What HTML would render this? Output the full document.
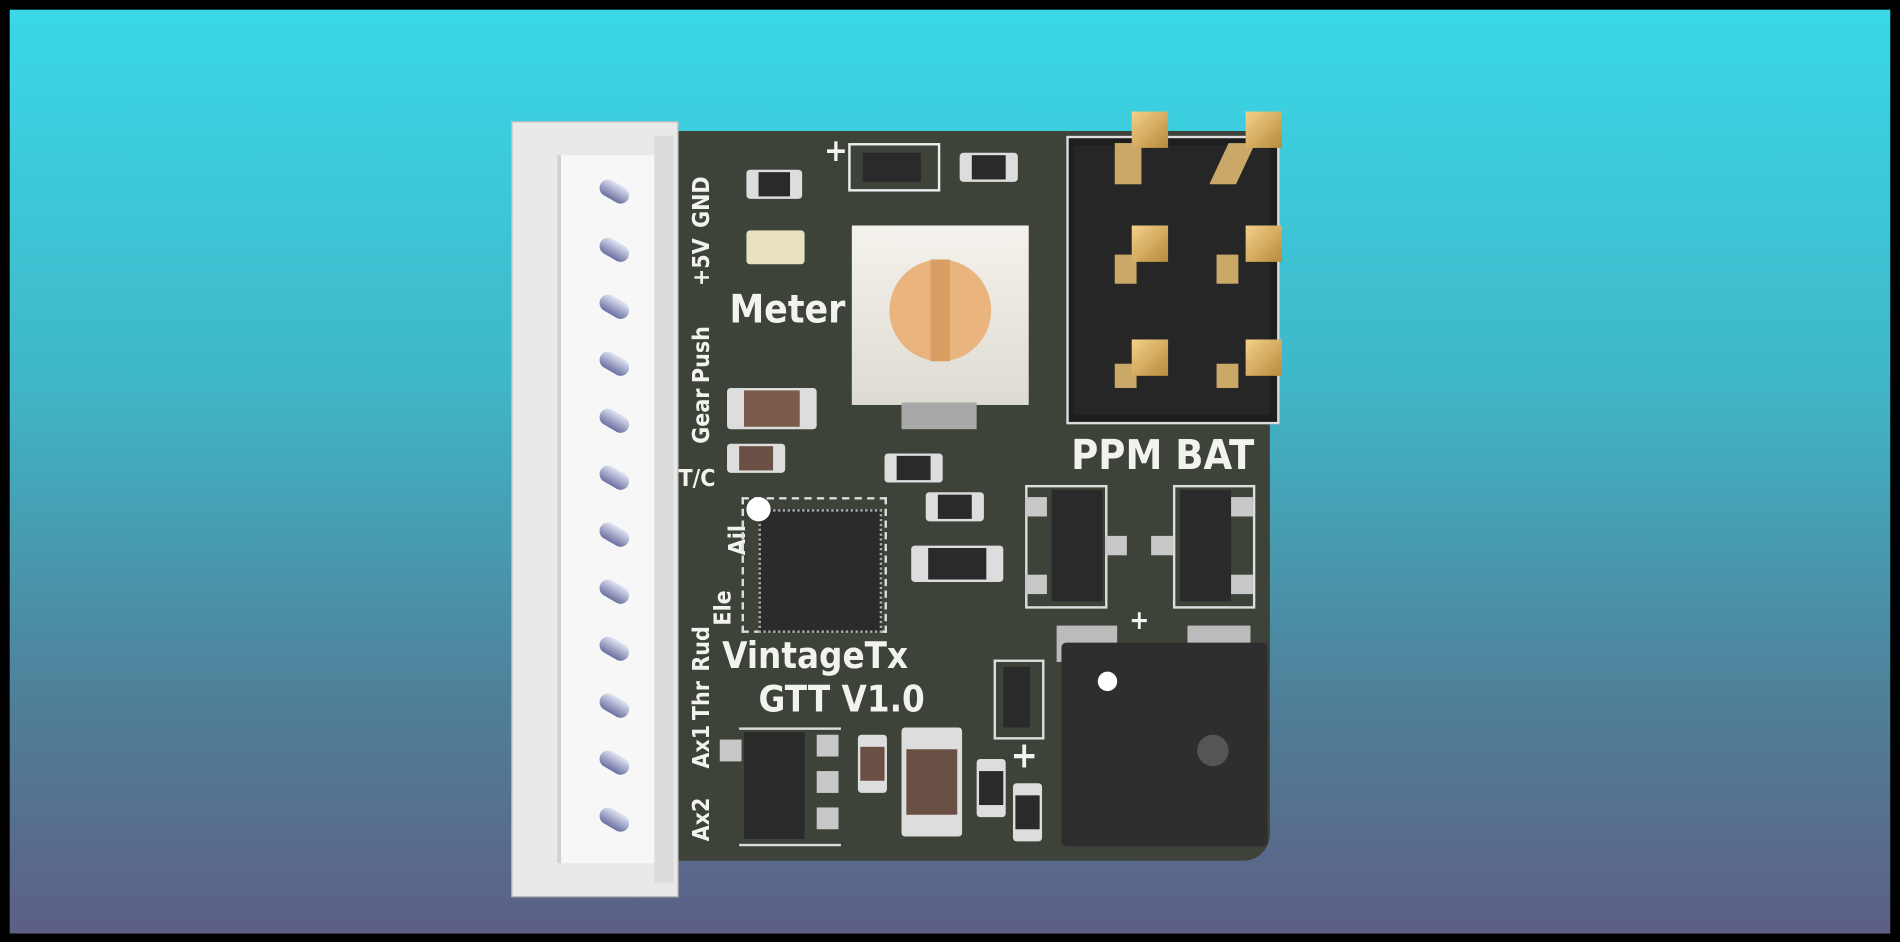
<!DOCTYPE html>
<html><head><meta charset="utf-8"><style>
html,body{margin:0;padding:0;width:1900px;height:942px;overflow:hidden;background:#000}
#s{position:absolute;left:0;top:0;width:1568px;height:777px;transform:scale(1.2117,1.2124);transform-origin:0 0}
.a{position:absolute}
.bg{left:8px;top:8px;width:1552px;height:762px;background:linear-gradient(#3ad8e8 0%,#3fb7c8 40%,#4f7f98 75%,#5d5f86 100%)}
.pcb{left:540px;top:108px;width:508px;height:602px;background:#3d4338;border-radius:4px 4px 22px 4px}
.t{color:#f2f2ee;font-family:"DejaVu Sans Condensed","DejaVu Sans","Liberation Sans",sans-serif;font-weight:bold;white-space:nowrap}
.pin{width:26px;height:14px;border-radius:7px;background:linear-gradient(#e0e4f4,#6a70a0);transform:rotate(30deg)}
.gold{width:30px;height:30px;background:linear-gradient(135deg,#f3d08a,#b88a3c);}
.gp{background:#caa868}
.res{background:#ddd;border-radius:3px}
.blk{background:#2a2a2a}
.pad{background:#c8c8c8}
</style></head><body><div id="s">
<div class="a bg"></div>
<div class="a pcb"></div>
<div class="a" style="left:422px;top:100px;width:136px;height:638px;background:#e9e9e9;border:1px solid #bbb"></div>
<div class="a" style="left:460px;top:128px;width:80px;height:584px;background:#f7f7f7;border-left:3px solid #d0d0d0"></div>
<div class="a" style="left:540px;top:112px;width:16px;height:616px;background:#dcdcdc"></div>
<div class="a pin" style="left:494px;top:151px"></div>
<div class="a pin" style="left:494px;top:199px"></div>
<div class="a pin" style="left:494px;top:246px"></div>
<div class="a pin" style="left:494px;top:293px"></div>
<div class="a pin" style="left:494px;top:340px"></div>
<div class="a pin" style="left:494px;top:387px"></div>
<div class="a pin" style="left:494px;top:434px"></div>
<div class="a pin" style="left:494px;top:481px"></div>
<div class="a pin" style="left:494px;top:528px"></div>
<div class="a pin" style="left:494px;top:575px"></div>
<div class="a pin" style="left:494px;top:622px"></div>
<div class="a pin" style="left:494px;top:669px"></div>
<div class="a t" style="font-size:19px;transform:rotate(-90deg);transform-origin:0 0;top:188px;left:568px">GND</div>
<div class="a t" style="font-size:19px;transform:rotate(-90deg);transform-origin:0 0;top:236px;left:568px">+5V</div>
<div class="a t" style="font-size:19px;transform:rotate(-90deg);transform-origin:0 0;top:316px;left:568px">Push</div>
<div class="a t" style="font-size:19px;transform:rotate(-90deg);transform-origin:0 0;top:366px;left:568px">Gear</div>
<div class="a t" style="font-size:19px;top:384px;left:560px">T/C</div>
<div class="a t" style="font-size:19px;transform:rotate(-90deg);transform-origin:0 0;top:458px;left:598px">Ail</div>
<div class="a t" style="font-size:19px;transform:rotate(-90deg);transform-origin:0 0;top:516px;left:586px">Ele</div>
<div class="a t" style="font-size:19px;transform:rotate(-90deg);transform-origin:0 0;top:554px;left:568px">Rud</div>
<div class="a t" style="font-size:19px;transform:rotate(-90deg);transform-origin:0 0;top:594px;left:568px">Thr</div>
<div class="a t" style="font-size:19px;transform:rotate(-90deg);transform-origin:0 0;top:634px;left:568px">Ax1</div>
<div class="a t" style="font-size:19px;transform:rotate(-90deg);transform-origin:0 0;top:694px;left:568px">Ax2</div>
<div class="a" style="left:703px;top:186px;width:146px;height:148px;background:linear-gradient(#f4f2ec,#dedbd2)"></div>
<div class="a" style="left:744px;top:332px;width:62px;height:22px;background:#a8a8a8"></div>
<div class="a" style="left:734px;top:214px;width:84px;height:84px;border-radius:50%;background:#e9b47e"></div>
<div class="a" style="left:768px;top:214px;width:16px;height:84px;background:#d99e62"></div>
<div class="a t" style="left:602px;top:236px;font-size:32px">Meter</div>
<div class="a" style="left:700px;top:118px;width:72px;height:36px;border:2px solid #eee"></div>
<div class="a blk" style="left:712px;top:126px;width:48px;height:24px"></div>
<div class="a t" style="left:680px;top:110px;font-size:26px">+</div>
<div class="a res" style="left:616px;top:140px;width:46px;height:24px"></div>
<div class="a blk" style="left:626px;top:142px;width:26px;height:20px"></div>
<div class="a res" style="left:792px;top:126px;width:48px;height:24px"></div>
<div class="a blk" style="left:802px;top:128px;width:28px;height:20px"></div>
<div class="a res" style="left:616px;top:190px;width:48px;height:28px;background:#e8e0c0"></div>
<div class="a res" style="left:600px;top:320px;width:74px;height:34px"></div>
<div class="a" style="left:614px;top:322px;width:46px;height:30px;background:#7a5a4a"></div>
<div class="a res" style="left:600px;top:366px;width:48px;height:24px"></div>
<div class="a" style="left:610px;top:368px;width:28px;height:20px;background:#6a5044"></div>
<div class="a res" style="left:730px;top:374px;width:48px;height:24px"></div>
<div class="a blk" style="left:740px;top:376px;width:28px;height:20px"></div>
<div class="a res" style="left:764px;top:406px;width:48px;height:24px"></div>
<div class="a blk" style="left:774px;top:408px;width:28px;height:20px"></div>
<div class="a res" style="left:752px;top:450px;width:76px;height:30px"></div>
<div class="a blk" style="left:766px;top:452px;width:48px;height:26px"></div>
<div class="a" style="left:880px;top:112px;width:172px;height:234px;border:2px solid #ddd;background:#1e1e1e"></div>
<div class="a" style="left:886px;top:120px;width:162px;height:222px;background:#262626"></div>
<div class="a gp" style="left:920px;top:118px;width:22px;height:34px"></div>
<div class="a gp" style="left:1006px;top:118px;width:22px;height:34px;transform:skewX(-25deg)"></div>
<div class="a gold" style="left:934px;top:92px"></div>
<div class="a gold" style="left:1028px;top:92px"></div>
<div class="a gp" style="left:920px;top:210px;width:18px;height:24px"></div>
<div class="a gp" style="left:1004px;top:210px;width:18px;height:24px"></div>
<div class="a gold" style="left:934px;top:186px"></div>
<div class="a gold" style="left:1028px;top:186px"></div>
<div class="a gp" style="left:920px;top:300px;width:18px;height:20px"></div>
<div class="a gp" style="left:1004px;top:300px;width:18px;height:20px"></div>
<div class="a gold" style="left:934px;top:280px"></div>
<div class="a gold" style="left:1028px;top:280px"></div>
<div class="a t" style="left:884px;top:356px;font-size:34px">PPM BAT</div>
<div class="a" style="left:846px;top:400px;width:64px;height:98px;border:2px solid #ddd"></div>
<div class="a blk" style="left:868px;top:404px;width:42px;height:92px"></div>
<div class="a pad" style="left:846px;top:410px;width:18px;height:16px"></div>
<div class="a pad" style="left:846px;top:474px;width:18px;height:16px"></div>
<div class="a pad" style="left:912px;top:442px;width:18px;height:16px"></div>
<div class="a" style="left:968px;top:400px;width:64px;height:98px;border:2px solid #ddd"></div>
<div class="a blk" style="left:974px;top:404px;width:42px;height:92px"></div>
<div class="a pad" style="left:1016px;top:410px;width:18px;height:16px"></div>
<div class="a pad" style="left:1016px;top:474px;width:18px;height:16px"></div>
<div class="a pad" style="left:950px;top:442px;width:18px;height:16px"></div>
<div class="a" style="left:612px;top:410px;width:116px;height:108px;border:2px dashed #ddd"></div>
<div class="a" style="left:626px;top:420px;width:98px;height:98px;background:#2b2b2b;border:2px dotted #aaa"></div>
<div class="a" style="left:616px;top:410px;width:20px;height:20px;border-radius:50%;background:#fff"></div>
<div class="a t" style="left:596px;top:524px;font-size:30px">VintageTx</div>
<div class="a t" style="left:626px;top:560px;font-size:30px">GTT V1.0</div>
<div class="a" style="left:872px;top:516px;width:50px;height:30px;background:#bbb"></div>
<div class="a" style="left:980px;top:516px;width:52px;height:30px;background:#bbb"></div>
<div class="a t" style="left:932px;top:500px;font-size:22px">+</div>
<div class="a" style="left:876px;top:530px;width:170px;height:168px;background:#2e2e2e;border-radius:4px"></div>
<div class="a" style="left:906px;top:554px;width:16px;height:16px;border-radius:50%;background:#fff"></div>
<div class="a" style="left:988px;top:606px;width:26px;height:26px;border-radius:50%;background:#555"></div>
<div class="a" style="left:820px;top:544px;width:38px;height:62px;border:2px solid #ddd"></div>
<div class="a blk" style="left:828px;top:550px;width:22px;height:50px"></div>
<div class="a t" style="left:834px;top:606px;font-size:30px">+</div>
<div class="a res" style="left:806px;top:626px;width:24px;height:48px"></div>
<div class="a blk" style="left:808px;top:636px;width:20px;height:28px"></div>
<div class="a res" style="left:836px;top:646px;width:24px;height:48px"></div>
<div class="a blk" style="left:838px;top:656px;width:20px;height:28px"></div>
<div class="a res" style="left:744px;top:600px;width:50px;height:90px"></div>
<div class="a" style="left:748px;top:618px;width:42px;height:54px;background:#6a5044"></div>
<div class="a res" style="left:708px;top:606px;width:24px;height:48px"></div>
<div class="a" style="left:710px;top:616px;width:20px;height:28px;background:#6a5044"></div>
<div class="a" style="left:610px;top:600px;width:84px;height:94px;border:2px solid #ddd;border-width:2px 0"></div>
<div class="a pad" style="left:594px;top:610px;width:18px;height:18px"></div>
<div class="a pad" style="left:674px;top:606px;width:18px;height:18px"></div>
<div class="a pad" style="left:674px;top:636px;width:18px;height:18px"></div>
<div class="a pad" style="left:674px;top:666px;width:18px;height:18px"></div>
<div class="a blk" style="left:614px;top:604px;width:50px;height:88px"></div>
</div></body></html>
